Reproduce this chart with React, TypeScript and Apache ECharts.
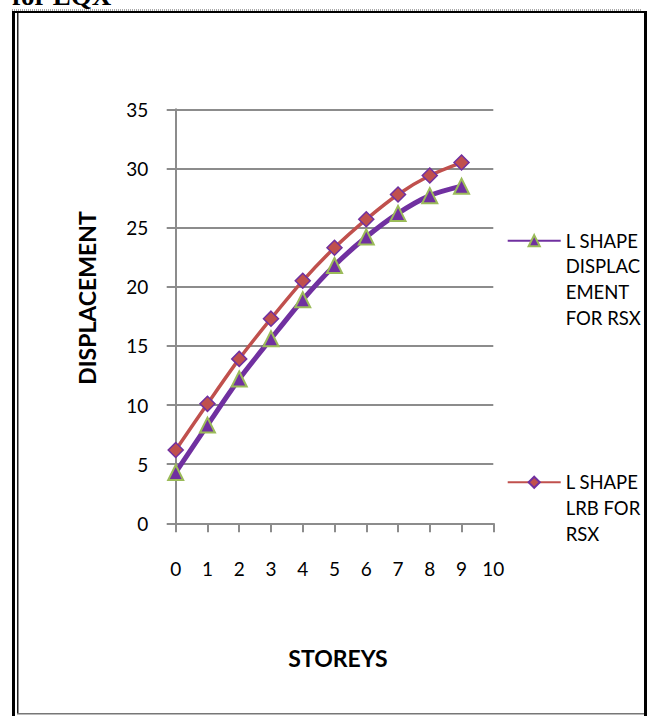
import React, { useEffect, useRef } from "react";
import * as echarts from "echarts";

const storeys = [0, 1, 2, 3, 4, 5, 6, 7, 8, 9];
const displacementRSX = [4.3, 8.3, 12.2, 15.6, 18.9, 21.8, 24.2, 26.2, 27.7, 28.5];
const lrbRSX = [6.2, 10.1, 13.9, 17.3, 20.5, 23.3, 25.7, 27.8, 29.4, 30.5];
const seriesNames = ["L SHAPE DISPLACEMENT FOR RSX", "L SHAPE LRB FOR RSX"];
const legendLines = [
  ["L SHAPE", "DISPLAC", "EMENT", "FOR RSX"],
  ["L SHAPE", "LRB FOR", "RSX"],
];
const xAxisTitle = "STOREYS";
const yAxisTitle = "DISPLACEMENT";
const headerText = "for EQX";

const padLegend = (lines: string[]) => {
  const pad = new Array(lines.length - 1).fill("").join("\n");
  return pad + "\n" + lines.join("\n") + (lines.length > 1 ? "" : "");
};

export default function App() {
  const ref = useRef<HTMLDivElement>(null);
  useEffect(() => {
    if (!ref.current) return;
    const chart = echarts.init(ref.current, null, { renderer: "svg" });
    const gridColor = "#8c8c8c";
    const font = "Lato";
    const legendCommon = {
      orient: "vertical" as const,
      padding: 0,
      itemWidth: 53,
      itemHeight: 14,
      textStyle: { fontFamily: font, fontSize: 18.5, lineHeight: 25.8, color: "#000" },
      formatter: (name: string) => {
        const idx = seriesNames.indexOf(name);
        const lines = legendLines[idx];
        const before = new Array(lines.length - 1).fill(" ").join("\n");
        return before + "\n" + lines.join("\n");
      },
    };
    chart.setOption({
      animation: false,
      backgroundColor: "#fff",
      grid: { left: 175.7, right: 156.7, top: 109.3, bottom: 192.7 },
      legend: [
        { ...legendCommon, data: [seriesNames[0]], left: 506.7, top: 240.7 - (7 * 25.8) / 2 },
        { ...legendCommon, data: [seriesNames[1]], left: 506.7, top: 482.3 - (5 * 25.8) / 2 },
      ],
      xAxis: {
        type: "value",
        min: 0,
        max: 10,
        interval: 1,
        axisLine: { show: true, onZero: false, lineStyle: { color: gridColor, width: 2 } },
        axisTick: { show: true, length: 9, lineStyle: { color: gridColor, width: 2 } },
        splitLine: { show: false },
        axisLabel: { margin: 36, fontFamily: font, fontSize: 19, color: "#000" },
      },
      yAxis: {
        type: "value",
        min: 0,
        max: 35,
        interval: 5,
        axisLine: { show: true, lineStyle: { color: gridColor, width: 2 } },
        axisTick: { show: true, length: 9, lineStyle: { color: gridColor, width: 2 } },
        splitLine: { show: true, lineStyle: { color: gridColor, width: 2 } },
        axisLabel: { margin: 27.5, fontFamily: font, fontSize: 19, color: "#000" },
      },
      series: [
        {
          name: seriesNames[0],
          type: "line",
          smooth: 0.3,
          data: storeys.map((s, i) => [s, displacementRSX[i]]),
          symbol: "triangle",
          symbolSize: 15,
          lineStyle: { color: "#7030A0", width: 5 },
          itemStyle: { color: "#7030A0", borderColor: "#9BBB59", borderWidth: 2 },
        },
        {
          name: seriesNames[1],
          type: "line",
          smooth: 0.3,
          data: storeys.map((s, i) => [s, lrbRSX[i]]),
          symbol: "diamond",
          symbolSize: 15,
          lineStyle: { color: "#C0504D", width: 3.5 },
          itemStyle: { color: "#C0504D", borderColor: "#7030A0", borderWidth: 1.5 },
        },
      ],
      graphic: [
        {
          type: "text",
          x: 12,
          y: -4,
          style: {
            text: headerText,
            font: 'bold 27px "Liberation Serif"',
            fill: "#000",
            verticalAlign: "middle",
          },
        },
        { type: "line", shape: { x1: 12, y1: 10, x2: 642, y2: 10 }, style: { stroke: "#555", lineWidth: 1, lineDash: [1, 1] } },
        { type: "rect", shape: { x: 12, y: 11, width: 635, height: 2 }, style: { fill: "#000" } },
        { type: "rect", shape: { x: 12, y: 11, width: 3, height: 705 }, style: { fill: "#000" } },
        { type: "rect", shape: { x: 17, y: 13, width: 1.5, height: 701 }, style: { fill: "#222" } },
        { type: "rect", shape: { x: 644, y: 11, width: 3, height: 705 }, style: { fill: "#000" } },
        { type: "rect", shape: { x: 17, y: 713, width: 627, height: 1.5 }, style: { fill: "#777" } },
        {
          type: "text",
          x: 338,
          y: 657.6,
          style: {
            text: xAxisTitle,
            font: `bold 23px ${font}`,
            fill: "#000",
            align: "center",
            verticalAlign: "middle",
          },
        },
        {
          type: "text",
          x: 87,
          y: 298,
          rotation: Math.PI / 2,
          style: {
            text: yAxisTitle,
            font: `bold 23px ${font}`,
            fill: "#000",
            align: "center",
            verticalAlign: "middle",
          },
        },
      ],
    });
    return () => chart.dispose();
  }, []);
  return (
    <div
      ref={ref}
      style={{ position: "fixed", left: 0, top: 0, width: 650, height: 716, background: "#fff" }}
    />
  );
}
